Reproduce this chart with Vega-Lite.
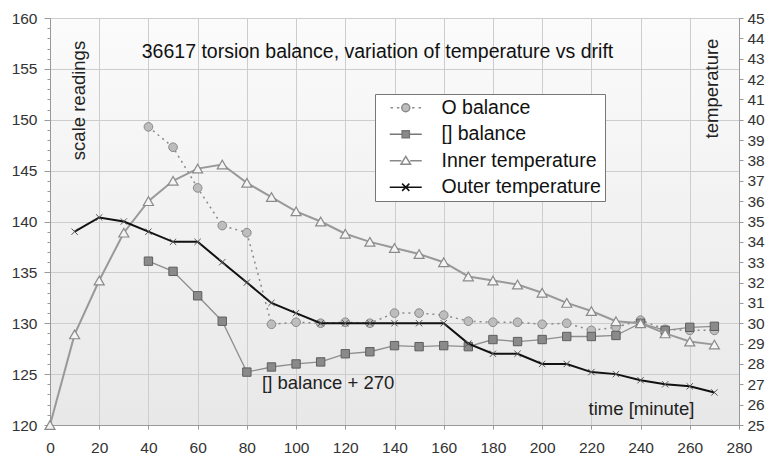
{
  "$schema": "https://vega.github.io/schema/vega-lite/v6.json",
  "width": 689,
  "height": 407,
  "autosize": {"type": "none"},
  "padding": {"left": 50, "top": 18, "right": 33, "bottom": 34},
  "background": "white",
  "config": {
    "font": "Liberation Sans",
    "view": {
      "fill": {"gradient": "linear", "x1": 0, "y1": 0, "x2": 0, "y2": 1, "stops": [{"offset": 0, "color": "#fbfbfb"}, {"offset": 1, "color": "#e8e8e8"}]},
      "stroke": "#b5b5b5"
    },
    "axis": {
      "labelFont": "Liberation Sans",
      "labelFontSize": 15.5,
      "labelColor": "#333333",
      "domainColor": "#999999",
      "tickColor": "#999999",
      "gridColor": "#cdcdcd",
      "titleFont": "Liberation Sans",
      "titleFontSize": 18.5,
      "titleFontWeight": "normal",
      "titleColor": "#222222",
      "labelOverlap": false,
      "labelFlush": false
    },
    "legend": {
      "orient": "none",
      "legendX": 325,
      "legendY": 76,
      "padding": 4,
      "fillColor": "white",
      "strokeColor": "#777777",
      "cornerRadius": 0,
      "labelFont": "Liberation Sans",
      "labelFontSize": 19.5,
      "labelColor": "#111111",
      "symbolSize": 256,
      "symbolOffset": 17,
      "labelOffset": 26,
      "rowPadding": 5.5,
      "symbolStrokeWidth": 1.5,
      "title": null
    }
  },
  "title": {
    "text": "36617 torsion balance, variation of temperature vs drift",
    "font": "Liberation Sans",
    "fontSize": 19.5,
    "fontWeight": "normal",
    "color": "#111111",
    "anchor": "middle",
    "dx": -17,
    "offset": -51
  },
  "datasets": {
    "d": [
      {"t": 40, "s": "O balance", "v": 149.3},
      {"t": 50, "s": "O balance", "v": 147.3},
      {"t": 60, "s": "O balance", "v": 143.3},
      {"t": 70, "s": "O balance", "v": 139.6},
      {"t": 80, "s": "O balance", "v": 138.9},
      {"t": 90, "s": "O balance", "v": 129.9},
      {"t": 100, "s": "O balance", "v": 130.1},
      {"t": 110, "s": "O balance", "v": 130.0},
      {"t": 120, "s": "O balance", "v": 130.1},
      {"t": 130, "s": "O balance", "v": 130.0},
      {"t": 140, "s": "O balance", "v": 131.0},
      {"t": 150, "s": "O balance", "v": 131.0},
      {"t": 160, "s": "O balance", "v": 130.8},
      {"t": 170, "s": "O balance", "v": 130.2},
      {"t": 180, "s": "O balance", "v": 130.1},
      {"t": 190, "s": "O balance", "v": 130.1},
      {"t": 200, "s": "O balance", "v": 129.9},
      {"t": 210, "s": "O balance", "v": 130.0},
      {"t": 220, "s": "O balance", "v": 129.3},
      {"t": 230, "s": "O balance", "v": 129.6},
      {"t": 240, "s": "O balance", "v": 130.3},
      {"t": 250, "s": "O balance", "v": 129.4},
      {"t": 260, "s": "O balance", "v": 129.3},
      {"t": 270, "s": "O balance", "v": 129.3},
      {"t": 40, "s": "[] balance", "v": 136.1},
      {"t": 50, "s": "[] balance", "v": 135.1},
      {"t": 60, "s": "[] balance", "v": 132.7},
      {"t": 70, "s": "[] balance", "v": 130.2},
      {"t": 80, "s": "[] balance", "v": 125.2},
      {"t": 90, "s": "[] balance", "v": 125.7},
      {"t": 100, "s": "[] balance", "v": 126.0},
      {"t": 110, "s": "[] balance", "v": 126.2},
      {"t": 120, "s": "[] balance", "v": 127.0},
      {"t": 130, "s": "[] balance", "v": 127.2},
      {"t": 140, "s": "[] balance", "v": 127.8},
      {"t": 150, "s": "[] balance", "v": 127.7},
      {"t": 160, "s": "[] balance", "v": 127.8},
      {"t": 170, "s": "[] balance", "v": 127.7},
      {"t": 180, "s": "[] balance", "v": 128.4},
      {"t": 190, "s": "[] balance", "v": 128.2},
      {"t": 200, "s": "[] balance", "v": 128.4},
      {"t": 210, "s": "[] balance", "v": 128.7},
      {"t": 220, "s": "[] balance", "v": 128.7},
      {"t": 230, "s": "[] balance", "v": 128.8},
      {"t": 240, "s": "[] balance", "v": 130.0},
      {"t": 250, "s": "[] balance", "v": 129.3},
      {"t": 260, "s": "[] balance", "v": 129.6},
      {"t": 270, "s": "[] balance", "v": 129.7},
      {"t": 0, "s": "Inner temperature", "v": 25.0},
      {"t": 10, "s": "Inner temperature", "v": 29.45},
      {"t": 20, "s": "Inner temperature", "v": 32.1},
      {"t": 30, "s": "Inner temperature", "v": 34.45},
      {"t": 40, "s": "Inner temperature", "v": 36.0},
      {"t": 50, "s": "Inner temperature", "v": 37.0},
      {"t": 60, "s": "Inner temperature", "v": 37.6},
      {"t": 70, "s": "Inner temperature", "v": 37.8},
      {"t": 80, "s": "Inner temperature", "v": 36.9},
      {"t": 90, "s": "Inner temperature", "v": 36.2},
      {"t": 100, "s": "Inner temperature", "v": 35.5},
      {"t": 110, "s": "Inner temperature", "v": 35.0},
      {"t": 120, "s": "Inner temperature", "v": 34.4},
      {"t": 130, "s": "Inner temperature", "v": 34.0},
      {"t": 140, "s": "Inner temperature", "v": 33.7},
      {"t": 150, "s": "Inner temperature", "v": 33.4},
      {"t": 160, "s": "Inner temperature", "v": 33.0},
      {"t": 170, "s": "Inner temperature", "v": 32.3},
      {"t": 180, "s": "Inner temperature", "v": 32.1},
      {"t": 190, "s": "Inner temperature", "v": 31.9},
      {"t": 200, "s": "Inner temperature", "v": 31.5},
      {"t": 210, "s": "Inner temperature", "v": 31.0},
      {"t": 220, "s": "Inner temperature", "v": 30.6},
      {"t": 230, "s": "Inner temperature", "v": 30.1},
      {"t": 240, "s": "Inner temperature", "v": 30.0},
      {"t": 250, "s": "Inner temperature", "v": 29.5},
      {"t": 260, "s": "Inner temperature", "v": 29.1},
      {"t": 270, "s": "Inner temperature", "v": 28.95},
      {"t": 10, "s": "Outer temperature", "v": 34.5},
      {"t": 20, "s": "Outer temperature", "v": 35.2},
      {"t": 30, "s": "Outer temperature", "v": 35.0},
      {"t": 40, "s": "Outer temperature", "v": 34.5},
      {"t": 50, "s": "Outer temperature", "v": 34.0},
      {"t": 60, "s": "Outer temperature", "v": 34.0},
      {"t": 70, "s": "Outer temperature", "v": 33.0},
      {"t": 80, "s": "Outer temperature", "v": 32.0},
      {"t": 90, "s": "Outer temperature", "v": 31.0},
      {"t": 100, "s": "Outer temperature", "v": 30.5},
      {"t": 110, "s": "Outer temperature", "v": 30.0},
      {"t": 120, "s": "Outer temperature", "v": 30.0},
      {"t": 130, "s": "Outer temperature", "v": 30.0},
      {"t": 140, "s": "Outer temperature", "v": 30.0},
      {"t": 150, "s": "Outer temperature", "v": 30.0},
      {"t": 160, "s": "Outer temperature", "v": 30.0},
      {"t": 170, "s": "Outer temperature", "v": 29.0},
      {"t": 180, "s": "Outer temperature", "v": 28.5},
      {"t": 190, "s": "Outer temperature", "v": 28.5},
      {"t": 200, "s": "Outer temperature", "v": 28.0},
      {"t": 210, "s": "Outer temperature", "v": 28.0},
      {"t": 220, "s": "Outer temperature", "v": 27.6},
      {"t": 230, "s": "Outer temperature", "v": 27.5},
      {"t": 240, "s": "Outer temperature", "v": 27.2},
      {"t": 250, "s": "Outer temperature", "v": 27.0},
      {"t": 260, "s": "Outer temperature", "v": 26.9},
      {"t": 270, "s": "Outer temperature", "v": 26.6}
    ]
  },
  "data": {"name": "d"},
  "encoding": {
    "x": {
      "field": "t",
      "type": "quantitative",
      "scale": {"domain": [0, 280], "nice": false, "zero": false},
      "axis": {
        "values": [0, 20, 40, 60, 80, 100, 120, 140, 160, 180, 200, 220, 240, 260, 280],
        "grid": true,
        "tickSize": 4,
        "labelPadding": 11,
        "title": "time [minute]",
        "titleX": 591,
        "titleY": -17,
        "titleAlign": "center",
        "titleBaseline": "middle"
      }
    }
  },
  "layer": [
    {
      "encoding": {
        "y": {
          "field": "v",
          "type": "quantitative",
          "scale": {"domain": [120, 160], "nice": false, "zero": false},
          "axis": {
            "orient": "left",
            "values": [120,121,122,123,124,125,126,127,128,129,130,131,132,133,134,135,136,137,138,139,140,141,142,143,144,145,146,147,148,149,150,151,152,153,154,155,156,157,158,159,160],
            "labelExpr": "datum.value % 5 === 0 ? datum.label : ''",
            "tickSize": {"condition": {"test": "datum.value % 5 === 0", "value": 6}, "value": 3},
            "gridOpacity": {"condition": {"test": "datum.value % 5 === 0", "value": 1}, "value": 0},
            "grid": true,
            "labelPadding": 7,
            "title": "scale readings",
            "titleX": 28,
            "titleY": 82,
            "titleAngle": -90,
            "titleAlign": "center",
            "titleBaseline": "middle"
          }
        }
      },
      "layer": [
        {
          "transform": [{"filter": "datum.s === 'O balance'"}],
          "mark": {"type": "line", "stroke": "#8a8a8a", "strokeWidth": 1.5, "strokeDash": [2, 4]}
        },
        {
          "transform": [{"filter": "datum.s === 'O balance'"}],
          "mark": {"type": "point", "shape": "circle", "size": 75, "filled": true, "fill": "#bdbdbd", "stroke": "#8a8a8a", "strokeWidth": 1, "opacity": 1}
        },
        {
          "transform": [{"filter": "datum.s === '[] balance'"}],
          "mark": {"type": "line", "stroke": "#8e8e8e", "strokeWidth": 1.3}
        },
        {
          "transform": [{"filter": "datum.s === '[] balance'"}],
          "mark": {"type": "point", "shape": "square", "size": 70, "filled": true, "fill": "#8a8a8a", "stroke": "#5e5e5e", "strokeWidth": 1, "opacity": 1}
        },
        {
          "transform": [{"filter": "false"}],
          "mark": {"type": "point", "filled": true, "opacity": 1},
          "encoding": {
            "shape": {
              "field": "s", "type": "nominal",
              "scale": {
                "domain": ["O balance", "[] balance", "Inner temperature", "Outer temperature"],
                "range": [
                  "M-1.9,0H-1.6M-1.1,0H-0.8M0.8,0H1.1M1.6,0H1.9M-0.5,0A0.5,0.5 0 1 0 0.5,0A0.5,0.5 0 1 0 -0.5,0Z",
                  "M-2,0H-0.45M0.45,0H2M-0.45,-0.45H0.45V0.45H-0.45Z",
                  "M-2,0H-0.55M0.55,0H2M0,-0.55L0.6,0.45H-0.6Z",
                  "M-2,0H2M-0.45,-0.45L0.45,0.45M-0.45,0.45L0.45,-0.45"
                ]
              },
              "legend": {"labelExpr": "datum.label + '\u00a0\u00a0'"}
            },
            "fill": {
              "field": "s", "type": "nominal",
              "scale": {
                "domain": ["O balance", "[] balance", "Inner temperature", "Outer temperature"],
                "range": ["#bdbdbd", "#8a8a8a", "#ffffff", "#111111"]
              },
              "legend": {"labelExpr": "datum.label + '\u00a0\u00a0'"}
            },
            "stroke": {
              "field": "s", "type": "nominal",
              "scale": {
                "domain": ["O balance", "[] balance", "Inner temperature", "Outer temperature"],
                "range": ["#8a8a8a", "#777777", "#8a8a8a", "#111111"]
              },
              "legend": {"labelExpr": "datum.label + '\u00a0\u00a0'"}
            }
          }
        },
        {
          "data": {"values": [{"t": 86.2, "v": 124.13, "label": "[] balance + 270"}]},
          "mark": {"type": "text", "align": "left", "baseline": "middle", "font": "Liberation Sans", "fontSize": 18.5, "color": "#222222"},
          "encoding": {"text": {"field": "label"}}
        }
      ]
    },
    {
      "encoding": {
        "y": {
          "field": "v",
          "type": "quantitative",
          "scale": {"domain": [25, 45], "nice": false, "zero": false},
          "axis": {
            "orient": "right",
            "values": [25,26,27,28,29,30,31,32,33,34,35,36,37,38,39,40,41,42,43,44,45],
            "grid": false,
            "tickSize": 4,
            "labelPadding": 4,
            "title": "temperature",
            "titleX": -28,
            "titleY": 70,
            "titleAngle": -90,
            "titleAlign": "center",
            "titleBaseline": "middle"
          }
        }
      },
      "layer": [
        {
          "transform": [{"filter": "datum.s === 'Inner temperature'"}],
          "mark": {"type": "line", "stroke": "#999999", "strokeWidth": 2}
        },
        {
          "transform": [{"filter": "datum.s === 'Inner temperature'"}],
          "mark": {"type": "point", "shape": "triangle-up", "size": 100, "filled": true, "fill": "#f4f4f4", "stroke": "#8a8a8a", "strokeWidth": 1.2, "opacity": 1}
        },
        {
          "transform": [{"filter": "datum.s === 'Outer temperature'"}],
          "mark": {"type": "line", "stroke": "#111111", "strokeWidth": 2}
        },
        {
          "transform": [{"filter": "datum.s === 'Outer temperature'"}],
          "mark": {"type": "point", "shape": "M-1,-1L1,1M-1,1L1,-1", "size": 40, "filled": false, "stroke": "#555555", "strokeWidth": 1, "opacity": 1}
        }
      ]
    }
  ],
  "resolve": {"scale": {"y": "independent"}}
}
